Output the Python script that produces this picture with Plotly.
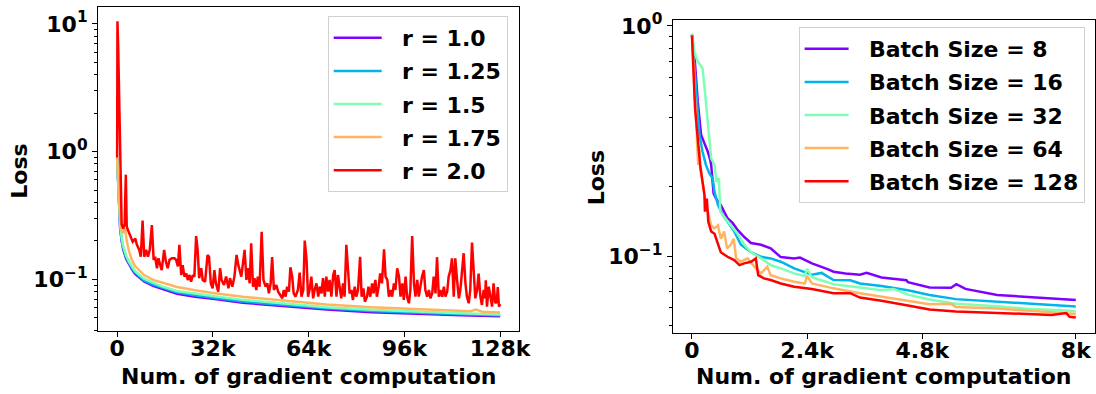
import plotly.graph_objects as go

# ---------------- data (x in thousands of gradient computations) ----------------
left_labels = ["r = 1.0", "r = 1.25", "r = 1.5", "r = 1.75", "r = 2.0"]
right_labels = ["Batch Size = 8", "Batch Size = 16", "Batch Size = 32",
                "Batch Size = 64", "Batch Size = 128"]
x_title = "Num. of gradient computation"
y_title = "Loss"

left_xticks = [0, 32, 64, 96, 128]
left_xticktext = ["0", "32k", "64k", "96k", "128k"]
right_xticks = [0, 2.4, 4.8, 8]
right_xticktext = ["0", "2.4k", "4.8k", "8k"]
left_yticks = [0.1, 1, 10]
left_yticktext = ["10<sup>\u22121</sup>", "10<sup>0</sup>", "10<sup>1</sup>"]
right_yticks = [0.1, 1]
right_yticktext = ["10<sup>\u22121</sup>", "10<sup>0</sup>"]

r100 = [(0, 0.90), (0.3, 0.60), (0.6, 0.40), (1, 0.25), (1.5, 0.20), (2, 0.172), (3, 0.145),
        (4, 0.130), (5, 0.119), (6, 0.110), (7.5, 0.102), (9, 0.096), (12, 0.089), (15, 0.084),
        (20, 0.077), (26, 0.073), (32, 0.0705), (42, 0.0655), (56, 0.0615), (70, 0.058),
        (85, 0.0553), (100, 0.0536), (115, 0.0523), (128, 0.0514)]
r125 = [(0, 0.88), (0.3, 0.62), (0.6, 0.42), (1, 0.26), (1.5, 0.205), (2, 0.177), (3, 0.149),
        (4, 0.133), (5, 0.122), (6, 0.113), (7.5, 0.105), (9, 0.098), (12, 0.091), (15, 0.086),
        (20, 0.079), (26, 0.075), (32, 0.072), (42, 0.067), (56, 0.063), (70, 0.0593),
        (85, 0.0565), (100, 0.0547), (115, 0.0533), (128, 0.0523)]
r150 = [(0, 0.86), (0.3, 0.64), (0.6, 0.44), (1, 0.27), (1.5, 0.213), (2, 0.183), (3, 0.154),
        (4, 0.137), (5, 0.126), (6, 0.116), (7.5, 0.108), (9, 0.101), (12, 0.094), (15, 0.088),
        (20, 0.081), (26, 0.077), (32, 0.074), (42, 0.069), (56, 0.0645), (70, 0.0605),
        (85, 0.0577), (100, 0.0557), (115, 0.0542), (128, 0.0531)]
r175 = [(0, 0.90), (0.3, 0.68), (0.6, 0.48), (1, 0.30), (1.5, 0.24), (2, 0.23), (2.6, 0.25),
        (3.2, 0.20), (4, 0.165), (5, 0.140), (6, 0.127), (7.5, 0.116), (9, 0.108), (12, 0.099),
        (15, 0.094), (20, 0.087), (26, 0.082), (32, 0.078), (42, 0.073), (56, 0.068),
        (70, 0.0635), (85, 0.0603), (100, 0.0582), (115, 0.0565), (118, 0.0562), (120, 0.058),
        (122, 0.0558), (128, 0.0549)]
r200 = [(0, 0.90), (0.1, 10.5), (0.35, 6.5), (0.7, 2.0), (0.95, 0.8), (1.2, 0.4), (1.5, 0.27),
        (2.0, 0.25), (2.5, 0.27), (2.9, 0.66), (3.2, 0.26), (3.6, 0.243), (4.4, 0.222),
        (5.2, 0.197), (6.05, 0.209), (6.6, 0.186), (7.4, 0.170), (7.9, 0.150), (8.5, 0.288),
        (9.05, 0.150), (9.7, 0.170), (10.3, 0.150), (10.9, 0.170), (11.6, 0.266), (12.2, 0.142),
        (12.7, 0.150), (13.3, 0.122), (13.8, 0.146), (14.4, 0.129), (14.9, 0.118), (15.7, 0.170),
        (16.3, 0.137), (16.9, 0.122), (17.5, 0.142), (18.3, 0.146), (19.2, 0.146), (19.7, 0.142),
        (20.3, 0.126), (20.8, 0.186), (21.4, 0.108), (21.9, 0.129), (22.5, 0.105), (23.1, 0.111),
        (23.6, 0.0988), (24.2, 0.108), (24.7, 0.0958), (25.3, 0.108), (25.8, 0.105), (26.4, 0.218),
        (26.9, 0.170), (27.4, 0.102), (28.1, 0.122), (28.6, 0.0988), (29.4, 0.0958), (30.2, 0.155),
        (30.7, 0.150), (31.3, 0.0930), (31.9, 0.0849), (32.5, 0.118), (33.0, 0.0930), (33.8, 0.0800),
        (34.4, 0.122), (34.9, 0.0988), (35.7, 0.0902), (36.4, 0.105), (37.2, 0.0849), (37.7, 0.102),
        (38.5, 0.0875), (39.2, 0.105), (39.9, 0.155), (40.5, 0.129), (41.5, 0.105), (42.6, 0.170),
        (43.2, 0.0988), (43.7, 0.122), (44.3, 0.093), (44.8, 0.191), (45.4, 0.0875), (45.9, 0.102),
        (46.5, 0.0824), (47.0, 0.105), (47.6, 0.0875), (48.3, 0.236), (48.9, 0.0988), (49.6, 0.0875),
        (50.2, 0.093), (50.7, 0.0776), (51.3, 0.093), (51.8, 0.149), (52.4, 0.0824), (53.2, 0.0902),
        (53.8, 0.080), (54.5, 0.0753), (55.2, 0.0709), (55.7, 0.0824), (56.3, 0.0731), (56.8, 0.0875),
        (57.4, 0.080), (57.9, 0.124), (58.5, 0.105), (59.0, 0.0776), (59.6, 0.0731), (60.4, 0.0824),
        (61.0, 0.113), (61.6, 0.0731), (62.2, 0.0824), (62.7, 0.201), (63.3, 0.142), (63.8, 0.0731),
        (64.4, 0.0849), (64.9, 0.105), (65.5, 0.0709), (66.0, 0.0824), (66.6, 0.093), (67.2, 0.0731),
        (67.7, 0.0875), (68.3, 0.0776), (68.8, 0.102), (69.4, 0.0731), (69.9, 0.105), (70.5, 0.080),
        (71.0, 0.0988), (71.6, 0.0731), (72.2, 0.108), (72.7, 0.118), (73.3, 0.0731), (73.8, 0.108),
        (74.4, 0.0824), (74.9, 0.0709), (75.5, 0.093), (76.0, 0.0731), (76.6, 0.186), (77.2, 0.105),
        (77.7, 0.0776), (78.3, 0.0824), (78.8, 0.0689), (79.4, 0.0875), (79.9, 0.0731), (80.5, 0.0824),
        (81.2, 0.150), (81.7, 0.0731), (82.3, 0.0849), (82.8, 0.0668), (83.5, 0.0731), (84.0, 0.0875),
        (84.6, 0.0731), (85.2, 0.093), (85.7, 0.0776), (86.3, 0.0988), (86.8, 0.0731), (87.4, 0.0875),
        (87.9, 0.111), (88.5, 0.093), (89.2, 0.172), (89.7, 0.105), (90.3, 0.0988), (90.8, 0.0731),
        (91.4, 0.0824), (91.9, 0.0731), (92.5, 0.093), (93.0, 0.0824), (93.6, 0.122), (94.2, 0.105),
        (94.7, 0.0731), (95.3, 0.093), (95.8, 0.0689), (96.4, 0.105), (96.9, 0.0731), (97.5, 0.0649),
        (98.0, 0.0824), (98.6, 0.218), (99.2, 0.093), (99.7, 0.0731), (100.3, 0.0988), (100.8, 0.0731),
        (101.4, 0.093), (101.9, 0.105), (102.5, 0.118), (103.0, 0.0824), (103.6, 0.0731), (104.2, 0.0824),
        (104.7, 0.0709), (105.3, 0.0776), (105.8, 0.105), (106.4, 0.0776), (106.9, 0.149), (107.5, 0.0731),
        (108.0, 0.0824), (108.6, 0.0731), (109.2, 0.0875), (109.7, 0.0731), (110.3, 0.080), (110.8, 0.105),
        (111.4, 0.118), (111.9, 0.146), (112.5, 0.0731), (113.0, 0.146), (113.6, 0.0988), (114.2, 0.0709),
        (114.7, 0.0824), (115.3, 0.118), (115.8, 0.160), (116.4, 0.093), (116.9, 0.0731), (117.5, 0.0649),
        (118.0, 0.0824), (118.6, 0.194), (119.2, 0.118), (119.7, 0.0709), (120.3, 0.0824), (120.8, 0.111),
        (121.4, 0.0731), (121.9, 0.063), (122.5, 0.0824), (123.0, 0.0709), (123.2, 0.098), (123.6, 0.0611),
        (124.2, 0.0875), (124.7, 0.0731), (125.3, 0.0611), (125.8, 0.093), (126.4, 0.0649), (126.9, 0.0668),
        (127.2, 0.087), (127.6, 0.0611), (128.0, 0.064)]

bs8 = [(0, 0.914), (0.06, 0.70), (0.12, 0.469), (0.19, 0.336), (0.26, 0.309), (0.33, 0.284),
       (0.38, 0.262), (0.40, 0.249), (0.45, 0.187), (0.50, 0.178), (0.60, 0.167), (0.67, 0.156),
       (0.74, 0.146), (0.85, 0.139), (0.95, 0.130), (1.09, 0.121), (1.23, 0.114), (1.44, 0.112),
       (1.64, 0.108), (1.85, 0.099), (2.13, 0.0977), (2.25, 0.0985), (2.5, 0.093), (2.84, 0.0875),
       (2.95, 0.0855), (3.2, 0.084), (3.5, 0.083), (3.64, 0.0845), (3.95, 0.0807), (4.47, 0.0785),
       (4.5, 0.077), (4.95, 0.0731), (5.4, 0.0728), (5.51, 0.0755), (5.7, 0.072),
       (6.36, 0.0677), (7.0, 0.0665), (7.5, 0.0655), (8.0, 0.0645)]
bs16 = [(0, 0.92), (0.08, 0.55), (0.155, 0.336), (0.22, 0.284), (0.29, 0.249), (0.36, 0.229),
        (0.43, 0.218), (0.47, 0.190), (0.54, 0.167), (0.64, 0.151), (0.74, 0.141), (0.88, 0.128),
        (1.02, 0.112), (1.23, 0.104), (1.44, 0.0993), (1.64, 0.0977), (1.85, 0.0945), (2.13, 0.0884),
        (2.5, 0.083), (2.7, 0.0845), (2.95, 0.0787), (3.3, 0.0785), (3.5, 0.076), (3.95, 0.0741),
        (4.5, 0.071), (4.95, 0.0677), (5.5, 0.065), (6.36, 0.0633), (7.0, 0.0620), (7.87, 0.0606),
        (8.0, 0.0604)]
bs32 = [(0, 0.93), (0.05, 0.773), (0.12, 0.70), (0.22, 0.655), (0.27, 0.518), (0.33, 0.371),
        (0.40, 0.266), (0.47, 0.249), (0.51, 0.210), (0.56, 0.218), (0.59, 0.156), (0.67, 0.148),
        (0.81, 0.136), (0.95, 0.125), (1.09, 0.112), (1.23, 0.104), (1.44, 0.0977), (1.64, 0.0914),
        (1.85, 0.0884), (2.13, 0.0841), (2.35, 0.082), (2.4, 0.088), (2.5, 0.081), (2.95, 0.0755),
        (3.5, 0.073), (3.95, 0.0711), (4.2, 0.072), (4.5, 0.068), (4.95, 0.0648), (5.5, 0.062),
        (6.36, 0.0606), (7.0, 0.059), (7.87, 0.0578), (8.0, 0.0575)]
bs64 = [(0, 0.91), (0.085, 0.371), (0.13, 0.249), (0.15, 0.30), (0.17, 0.24), (0.22, 0.210),
        (0.27, 0.178), (0.33, 0.156), (0.40, 0.136), (0.47, 0.132), (0.54, 0.136), (0.60, 0.119),
        (0.67, 0.128), (0.73, 0.108), (0.81, 0.112), (0.87, 0.119), (0.92, 0.0977), (1.02, 0.0945),
        (1.16, 0.0977), (1.33, 0.0884), (1.44, 0.0841), (1.57, 0.0899), (1.64, 0.0826), (1.85, 0.080),
        (2.13, 0.0773), (2.35, 0.076), (2.4, 0.082), (2.5, 0.076), (2.95, 0.0724), (3.5, 0.069),
        (3.95, 0.0665), (4.5, 0.064), (4.95, 0.0617), (5.4, 0.062), (5.5, 0.060), (6.36, 0.0592),
        (7.0, 0.058), (7.87, 0.0563), (8.0, 0.056)]
bs128 = [(0, 0.91), (0.064, 0.439), (0.12, 0.325), (0.17, 0.249), (0.22, 0.210), (0.26, 0.184),
         (0.27, 0.156), (0.31, 0.178), (0.34, 0.141), (0.40, 0.128), (0.47, 0.125), (0.54, 0.112),
         (0.60, 0.104), (0.74, 0.0993), (0.88, 0.096), (0.99, 0.0914), (1.09, 0.093), (1.23, 0.0945),
         (1.33, 0.0977), (1.38, 0.0826), (1.50, 0.080), (1.64, 0.0787), (1.85, 0.076), (2.13, 0.0736),
         (2.5, 0.072), (2.95, 0.0689), (3.3, 0.069), (3.5, 0.066), (3.95, 0.064), (4.5, 0.061),
         (4.95, 0.0586), (5.5, 0.0575), (6.36, 0.0567), (7.0, 0.056), (7.5, 0.0555), (7.8, 0.0565),
         (7.87, 0.0545), (8.0, 0.0541)]

left_series = [r100, r125, r150, r175, r200]
right_series = [bs8, bs16, bs32, bs64, bs128]

# ---------------- styling ----------------
colors = ["#8000ff", "#00b4ec", "#80ffb4", "#ffb462", "#ff0000"]
FONT = "DejaVu Sans"
W, H = 1096, 394
bold = dict(family=FONT, size=22, color="black", weight="bold")
PAD = "\u00a0\u00a0"  # gap between legend line sample and label
LW = 2.5


def px(x):
    return x / W


def py(y):
    return 1 - y / H


fig = go.Figure()
for i, (pts, name) in enumerate(zip(left_series, left_labels)):
    xs, ys = zip(*pts)
    fig.add_trace(go.Scatter(x=list(xs), y=list(ys), mode="lines", name=PAD + name,
                             line=dict(color=colors[i], width=LW), legend="legend",
                             legendgroup="L%d" % i, xaxis="x", yaxis="y"))
for i, (pts, name) in enumerate(zip(right_series, right_labels)):
    xs, ys = zip(*pts)
    fig.add_trace(go.Scatter(x=list(xs), y=list(ys), mode="lines", name=PAD + name,
                             line=dict(color=colors[i], width=LW), legend="legend2",
                             legendgroup="R%d" % i, xaxis="x2", yaxis="y2"))

axis_common = dict(showline=True, mirror=True, linecolor="black", linewidth=1,
                   ticks="outside", ticklen=5, tickwidth=1, tickcolor="black",
                   showgrid=False, zeroline=False, tickfont=bold, automargin=False)

left_minor = [0.04, 0.05, 0.06, 0.07, 0.08, 0.09, 0.2, 0.3, 0.4, 0.5, 0.6, 0.7, 0.8, 0.9,
              2, 3, 4, 5, 6, 7, 8, 9]
right_minor = [0.05, 0.06, 0.07, 0.08, 0.09, 0.2, 0.3, 0.4, 0.5, 0.6, 0.7, 0.8, 0.9]

legend_common = dict(xanchor="left", yanchor="top", bgcolor="rgba(255,255,255,0.8)",
                     bordercolor="#d0d0d0", borderwidth=1, font=bold, tracegroupgap=1.5)

fig.update_layout(
    width=W, height=H, margin=dict(l=0, r=0, t=0, b=0, pad=0, autoexpand=False), autosize=False,
    paper_bgcolor="white", plot_bgcolor="white",
    font=bold,
    xaxis=dict(domain=[px(98), px(519.3)], range=[-6.4, 134.4], anchor="y",
               tickmode="array", tickvals=left_xticks, ticktext=left_xticktext,
               ticklabelstandoff=-7, **axis_common),
    yaxis=dict(domain=[py(331), py(6.7)], type="log", range=[-1.405, 1.135],
               anchor="x", tickmode="array", tickvals=left_yticks, ticktext=left_yticktext,
               minor=dict(tickmode="array", tickvals=left_minor, ticks="outside", ticklen=3,
                          tickwidth=0.8, tickcolor="black"),
               **axis_common),
    xaxis2=dict(domain=[px(672.8), px(1095)], range=[-0.4, 8.4], anchor="y2",
                tickmode="array", tickvals=right_xticks, ticktext=right_xticktext,
                ticklabelstandoff=-7, **axis_common),
    yaxis2=dict(domain=[py(332.7), py(20)], type="log", range=[-1.333, 0.026],
                anchor="x2", tickmode="array", tickvals=right_yticks, ticktext=right_yticktext,
                minor=dict(tickmode="array", tickvals=right_minor, ticks="outside", ticklen=3,
                           tickwidth=0.8, tickcolor="black"),
                **axis_common),
    legend=dict(x=px(327.7), y=py(16), itemwidth=48, **legend_common),
    legend2=dict(x=px(798.6), y=py(27), itemwidth=44, **legend_common),
)

# axis titles
for xc, yc in [(308.6, 376), (883.9, 376)]:
    fig.add_annotation(text=x_title, x=px(xc), y=py(yc), xref="paper", yref="paper",
                       xanchor="center", yanchor="middle", showarrow=False, font=bold)
for xc, yc in [(20, 171.7), (596.8, 177.5)]:
    fig.add_annotation(text=y_title, x=px(xc), y=py(yc), xref="paper", yref="paper",
                       xanchor="center", yanchor="middle", showarrow=False, font=bold,
                       textangle=-90)

post = ("document.body.style.margin='0';document.body.style.overflow='hidden';"
        "var gd=document.getElementById('{plot_id}');gd.style.position='absolute';"
        "gd.style.left='0px';gd.style.top='0px';")
fig.write_html("out.html", post_script=post, config={"displayModeBar": False})
